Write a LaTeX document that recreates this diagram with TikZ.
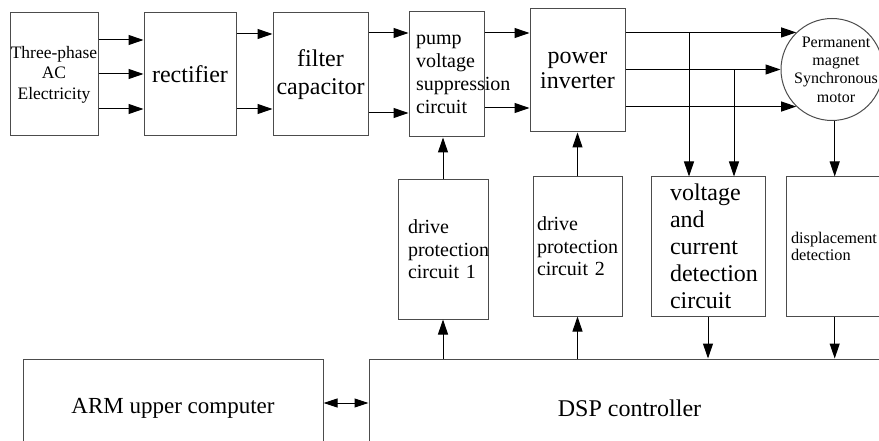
\documentclass[tikz,border=0pt]{standalone}
\usepackage{fontspec}
\setmainfont{Liberation Serif}
\usetikzlibrary{arrows.meta}
\hyphenpenalty=10000
\exhyphenpenalty=10000
\tikzset{
  blk/.style={draw=black!70, line width=1pt, inner sep=0pt, align=center},
  lblk/.style={draw=black!70, line width=1pt, inner ysep=0pt, align=left},
  arr/.style={-{Triangle[length=15pt,width=10pt]}, line width=1pt},
}

\begin{document}
\begin{tikzpicture}[x=1pt, y=-1pt]
\newcommand{\toph}{123pt}
\newcommand{\midh}{139pt}
\useasboundingbox (0,0) rectangle (879,441);
%% power path
\node[blk, minimum width=88pt, minimum height=\toph, font=\fontsize{17.5}{20.5}\selectfont] (ac) at (54,74.5) {Three-phase\\AC\\Electricity};
\node[blk, minimum width=92pt, minimum height=\toph, font=\fontsize{24}{28}\selectfont] (rect) at (190,74.5) {rectifier};
\node[blk, minimum width=95pt, minimum height=\toph, font=\fontsize{24}{28}\selectfont] (filt) at (320.5,74.5) {filter\\capacitor};
\node[lblk, inner xsep=7pt, text width=61pt, minimum height=125pt, font=\fontsize{20}{23}\selectfont] (pump) at (446.5,74.5) {pump\\voltage\\suppression\\circuit};
\node[blk, minimum width=95pt, minimum height=\toph, font=\fontsize{24}{25}\selectfont] (inv) at (577.5,70.5) {power\\inverter};
\node[circle, draw=black!70, line width=1pt, minimum size=102pt,
  label={[align=center, xshift=4pt, font=\fontsize{16}{18.3}\selectfont]center:Permanent\\magnet\\Synchronous\\motor}] (motor) at (832,69.5) {};
%% drive and detection
\node[lblk, inner xsep=10pt, text width=70pt, minimum height=\midh, font=\fontsize{20}{22.5}\selectfont] (dp1) at (443,249.5) {drive\\protection\\circuit~1};
\node[lblk, inner xsep=4pt, text width=81pt, minimum height=\midh, font=\fontsize{20}{22.5}\selectfont] (dp2) at (577.5,246.5) {drive\\protection\\circuit~2};
\node[lblk, inner xsep=19pt, text width=76pt, minimum height=\midh, font=\fontsize{24}{27}\selectfont] (vc) at (708,246.5) {voltage\\and\\current\\detection\\circuit};
\node[lblk, inner xsep=5pt, text width=94pt, minimum height=\midh, font=\fontsize{16.3}{17}\selectfont] (disp) at (838,246.5) {displacement\\detection};
%% controllers
\node[blk, minimum width=300pt, minimum height=99pt, font=\fontsize{23}{25}\selectfont] (arm) at (173,408.5) {ARM upper computer};
\node[blk, minimum width=521pt, minimum height=99pt, font=\fontsize{24}{25}\selectfont] (dsp) at (629.5,408.5) {DSP controller};

\foreach \y in {40,74,109} \draw[arr] (ac.east |- 0,\y) -- (rect.west |- 0,\y);
\foreach \y in {34,109} \draw[arr] (rect.east |- 0,\y) -- (filt.west |- 0,\y);
\foreach \y in {33,113} \draw[arr] (filt.east |- 0,\y) -- (pump.west |- 0,\y);
\foreach \y in {33,108} \draw[arr] (pump.east |- 0,\y) -- (inv.west |- 0,\y);
\foreach \a in {134,180,226} \draw[arr] (inv.east |- motor.\a) -- (motor.\a);

\coordinate (t1) at (689,0);
\coordinate (t2) at (734,0);
\draw[arr] (t1 |- motor.134) -- (t1 |- vc.north);
\draw[arr] (t2 |- motor.180) -- (t2 |- vc.north);
\draw[arr] (motor.-87) -- (motor.-87 |- disp.north);

\draw[arr] (dp1.north) -- (dp1.north |- pump.south);
\draw[arr] (dp2.north) -- (dp2.north |- inv.south);
\draw[arr] (dsp.north -| dp1) -- (dp1.south);
\draw[arr] (dsp.north -| dp2) -- (dp2.south);
\draw[arr] (vc.south) -- (vc.south |- dsp.north);
\draw[arr] (disp.south -| motor.-87) -- (dsp.north -| motor.-87);
\draw[{Triangle[length=14pt,width=9pt]}-{Triangle[length=14pt,width=9pt]}, line width=1pt] (arm.east |- 0,403) -- (dsp.west |- 0,403);
\end{tikzpicture}
\end{document}
